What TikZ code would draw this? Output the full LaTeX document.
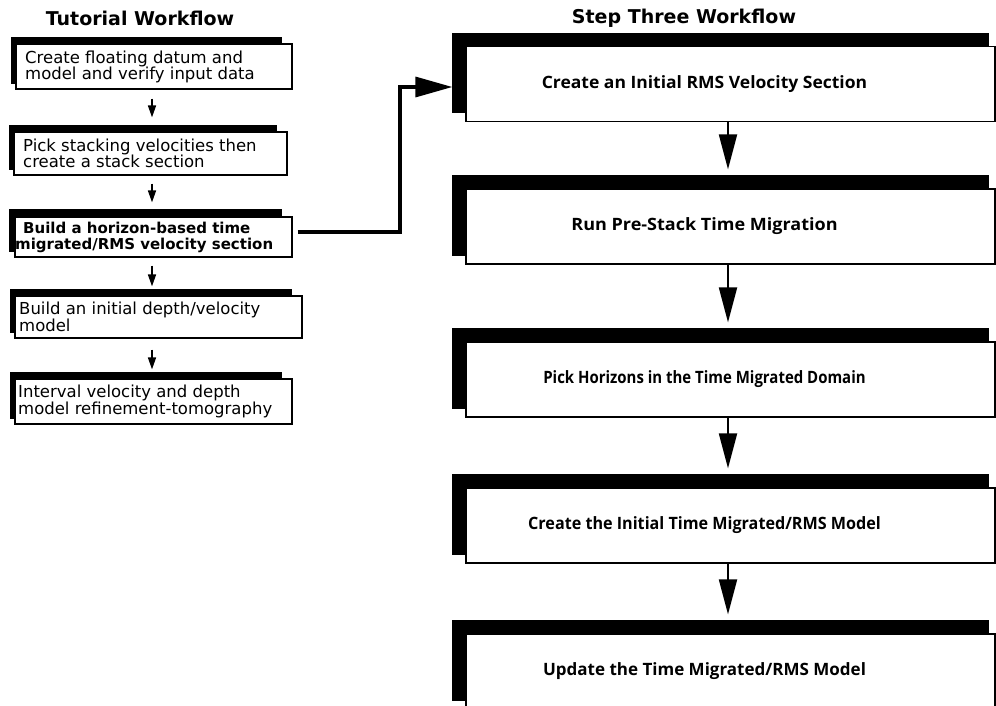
\documentclass[tikz,border=0pt]{standalone}
\usepackage{fontspec}
\usepackage{graphicx}
\setmainfont{Open Sans}
\newfontfamily\dvs{DejaVu Sans}
\usetikzlibrary{arrows.meta,calc,backgrounds}
\begin{document}
\begin{tikzpicture}[x=1pt,y=-1pt,
  rbox/.style={draw=black,line width=1.2pt,fill=white,minimum width=529pt,minimum height=75pt,inner sep=0pt},
  lbox/.style={draw=black,line width=1.2pt,fill=white,minimum height=43pt,inner sep=0pt},
  rtext/.style={font=\fontsize{17}{20}\selectfont\bfseries,inner sep=0pt},
  ltext/.style={font=\dvs\fontsize{16.5}{16.5}\selectfont,align=left,anchor=west,inner sep=0pt},
  ttl/.style={font=\dvs\fontsize{19}{20}\selectfont\bfseries,inner sep=0pt,anchor=base},
  rarrow/.style={line width=2pt,-{Triangle[length=35pt,width=18pt]}},
  larrow/.style={line width=1.6pt,-{Triangle[length=12pt,width=8pt]}},
  bigarrow/.style={line width=3.2pt,-{Triangle[length=37pt,width=20pt]}}
]
\useasboundingbox (0,0) rectangle (996,706);
\clip (0,0) rectangle (996,706);

% titles
\node[ttl] (t1) at (140,26) {Tutorial Workflow};
\node[ttl] (t2) at (684,24) {Step Three Workflow};

% left boxes
\node[lbox,minimum width=276pt,minimum height=45pt] (b1) at (154,66.5) {};
\node[lbox,minimum width=273pt] (b2) at (150.5,153.5) {};
\node[lbox,minimum width=277pt,minimum height=40pt] (b3) at (153.5,237) {};
\node[lbox,minimum width=287pt,minimum height=42pt] (b4) at (158.5,317) {};
\node[lbox,minimum width=277pt,minimum height=45pt] (b5) at (153.5,401.5) {};

\begin{scope}[on background layer]
\foreach \b in {b1,b2,b4,b5}{
  \fill ($(\b.north west)+(-4,-6)$) rectangle ($(\b.south east)+(-11,-6)$);
}
\fill ($(b3.north west)+(-5,-7)$) rectangle ($(b3.south east)+(-11,-6)$);
\end{scope}

\node[ltext] (b1t) at (25,67) {Create floating datum and\\model and verify input data};
\node[ltext] (b2t) at (23,153.5) {Pick stacking velocities then\\create a stack section};
\node[ltext,font=\dvs\fontsize{15}{16}\selectfont\bfseries] (b3t) at (23,237) {Build a horizon-based time\\\hspace*{-8pt}migrated/RMS velocity section};
\node[ltext] (b4t) at (19,317) {Build an initial depth/velocity\\model};
\node[ltext] (b5t) at (18,401.5) {Interval velocity and depth\\model refinement-tomography};

% right boxes
\node[rbox] (r1) at (730.5,84) {};
\node[rbox] (r2) at (730.5,226.5) {};
\node[rbox] (r3) at (730.5,379.5) {};
\node[rbox] (r4) at (730.5,525.5) {};
\node[rbox] (r5) at (730.5,671.5) {};

\begin{scope}[on background layer]
\foreach \r in {r1,r2,r3,r4,r5}{
  \fill ($(\r.north west)+(-13,-13)$) rectangle ($(\r.south east)+(-7,-9)$);
}
\end{scope}

\node[rtext] (r1t) at ($(r1.center)+(-26,0)$) {\scalebox{1.03}[1]{Create an Initial RMS Velocity Section}};
\node[rtext] (r2t) at ($(r2.center)+(-26,0)$) {\scalebox{1.06}[1]{Run Pre-Stack Time Migration}};
\node[rtext] (r3t) at ($(r3.center)+(-26,0)$) {\scalebox{0.88}[1]{Pick Horizons in the Time Migrated Domain}};
\node[rtext] (r4t) at ($(r4.center)+(-26,0)$) {\scalebox{0.95}[1]{Create the Initial Time Migrated/RMS Model}};
\node[rtext] (r5t) at ($(r5.center)+(-26,0)$) {Update the Time Migrated/RMS Model};

% left arrows
\coordinate (lax) at (152,0);
\draw[larrow] ($(b1.south -| lax)+(0,9)$) -- ($(b2.north -| lax)+(0,-14)$);
\draw[larrow] ($(b2.south -| lax)+(0,8)$) -- ($(b3.north -| lax)+(0,-14)$);
\draw[larrow] ($(b3.south -| lax)+(0,8)$) -- ($(b4.north -| lax)+(0,-9)$);
\draw[larrow] ($(b4.south -| lax)+(0,11)$) -- ($(b5.north -| lax)+(0,-9)$);

% right arrows
\coordinate (rax) at (728,0);
\draw[rarrow] (r1.south -| rax) -- ($(r2.north -| rax)+(0,-19)$);
\draw[rarrow] (r2.south -| rax) -- ($(r3.north -| rax)+(0,-19)$);
\draw[rarrow] (r3.south -| rax) -- ($(r4.north -| rax)+(0,-19)$);
\draw[rarrow] (r4.south -| rax) -- ($(r5.north -| rax)+(0,-19)$);

% connector
\coordinate (r1in) at ($(r1.west)+(-13,3)$);
\coordinate (cx) at (400,0);
\coordinate (c0) at ($(b3.east)+(5,-5)$);
\draw[bigarrow] (c0) -- (c0 -| cx) -- (r1in -| cx) -- (r1in);
\end{tikzpicture}
\end{document}
